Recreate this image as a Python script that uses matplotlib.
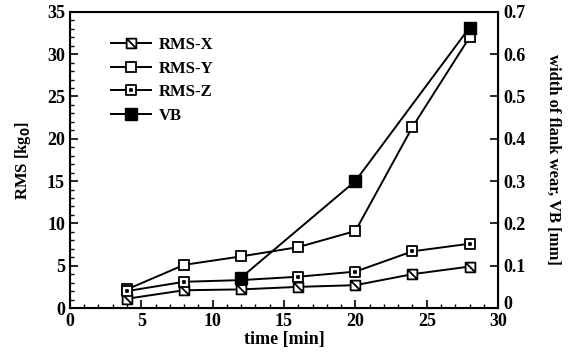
import numpy as np
import matplotlib
matplotlib.use('Agg')
import matplotlib.pyplot as plt
import matplotlib.transforms as mtransforms
from matplotlib.path import Path
from matplotlib.ticker import MultipleLocator

# data
time = [4, 8, 12, 16, 20, 24, 28]
rms_x = [1.1, 2.1, 2.2, 2.5, 2.7, 4.0, 4.9]
rms_y = [2.2, 5.1, 6.1, 7.2, 9.1, 21.4, 32.0]
rms_z = [2.0, 3.1, 3.3, 3.7, 4.3, 6.7, 7.6]
vb_time = [12, 20, 28]
vb = [0.072, 0.30, 0.663]

plt.rcParams['font.family'] = 'Liberation Serif'
plt.rcParams['font.weight'] = 'bold'

# markers: square with a diagonal, square with a dot
sq = [(-1, -1), (1, -1), (1, 1), (-1, 1), (-1, -1)]
m_slash = Path(sq + [(-1, 1), (1, -1)],
               [Path.MOVETO] + [Path.LINETO] * 3 + [Path.CLOSEPOLY] + [Path.MOVETO, Path.LINETO])
d = 0.25
m_dot = Path(sq + [(-d, -d), (d, -d), (d, d), (-d, d), (-d, -d)],
             ([Path.MOVETO] + [Path.LINETO] * 3 + [Path.CLOSEPOLY]) * 2)

fig = plt.figure(figsize=(5.68, 3.59), dpi=100)
ax = fig.add_axes([0.123, 0.142, 0.754, 0.825])
ax2 = ax.twinx()

lw = 1.4
l1, = ax.plot(time, rms_x, color='k', lw=lw, marker=m_slash, ms=7, mfc='white', mec='k', mew=1.3, label='RMS-X')
l2, = ax.plot(time, rms_y, color='k', lw=lw, marker='s', ms=7, mfc='white', mec='k', mew=1.3, label='RMS-Y')
l3, = ax.plot(time, rms_z, color='k', lw=lw, marker=m_dot, ms=7, mfc='white', mec='k', mew=1.3, label='RMS-Z')
l4, = ax2.plot(vb_time, vb, color='k', lw=lw, marker='s', ms=8, mfc='k', mec='k', label='VB')

ax.set_xlim(0, 30)
ax.set_ylim(0, 35)
ax2.set_ylim(0, 0.7)

ax.xaxis.set_major_locator(MultipleLocator(5))
ax.xaxis.set_minor_locator(MultipleLocator(1))
ax.yaxis.set_major_locator(MultipleLocator(5))
ax.yaxis.set_minor_locator(MultipleLocator(1))

ax.tick_params(which='both', direction='in', labelsize=13)
ax.tick_params(which='major', length=6, width=1.2)
ax.tick_params(which='minor', length=3, width=1)
ax2.tick_params(direction='in', length=6, width=1.2, labelsize=13)
ax2.set_yticks(np.arange(0, 0.71, 0.1))
ax2.set_yticklabels(['0', '0.1', '0.2', '0.3', '0.4', '0.5', '0.6', '0.7'])
# right-hand 0 sits a little higher, clear of the "30"
lab0 = ax2.get_yticklabels()[0]
lab0.set_transform(lab0.get_transform() + mtransforms.ScaledTranslation(0, 4 / 72, fig.dpi_scale_trans))

for s in ax.spines.values():
    s.set_linewidth(1.5)

ax.set_xlabel('time [min]', fontsize=13, fontweight='bold', labelpad=1)
ax.set_ylabel('RMS [kg$_0$]', fontsize=12, fontweight='bold', labelpad=10)
ax2.set_ylabel('width of flank wear, VB [mm]', fontsize=12, fontweight='bold', rotation=270, labelpad=26)

ax.legend(handles=[l1, l2, l3, l4], loc='upper left', bbox_to_anchor=(0.06, 0.965),
          frameon=False, fontsize=12, handlelength=2.4, labelspacing=0.45, handletextpad=0.5)

fig.savefig('out.png', dpi=100)
